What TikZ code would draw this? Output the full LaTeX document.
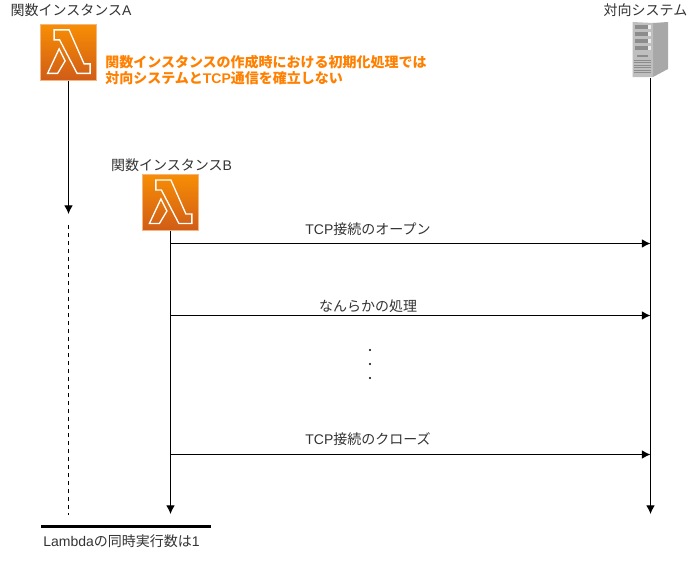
\documentclass[tikz,border=0pt]{standalone}
\usepackage{fontspec}
\setmainfont{Liberation Sans}
\newfontfamily\cjk{Noto Sans CJK JP}
\usepackage{xcolor}
\usepackage{tikz}
\usetikzlibrary{arrows.meta}

\definecolor{lamtop}{HTML}{F78E04}
\definecolor{lamlow}{HTML}{D05C17}
\definecolor{lamedge}{HTML}{F5B57E}
\definecolor{notecol}{HTML}{FF8000}
\definecolor{txtcol}{HTML}{333333}

\newcommand{\jp}[1]{{\cjk #1}}

\tikzset{
  lamicon/.style={shape=rectangle,draw=lamedge,line width=0.6pt,minimum size=42pt,inner sep=0pt,top color=lamtop,bottom color=lamlow},
  lamglyph/.style={draw=white,line width=1pt,line join=miter},
  msg/.style={-{Latex[length=6.5pt,width=6.5pt]},draw=black,line width=0.75pt},
  lbl/.style={text=txtcol,font=\fontsize{10.5}{12}\selectfont,inner sep=0pt},
  noteline/.style={text=notecol,font=\fontsize{10.5}{12}\selectfont\bfseries,inner sep=0pt,anchor=west},
}

\newcommand{\lamglyphat}[1]{
\begin{scope}[shift={(#1.north west)}]
\draw[lamglyph] (14,6) -- (29,6) -- (44,40) -- (50,40) -- (50,49.5) -- (37,49.5) -- (19.5,16) -- (14,16) -- cycle;
\draw[lamglyph] (19,25) -- (25,37) -- (17.5,49.5) -- (7.5,49.5) -- cycle;
\end{scope}
}

\begin{document}
\begin{tikzpicture}[x=0.75pt,y=-0.75pt]
\useasboundingbox (0,0) rectangle (696,564);

% icons
\node[lamicon] (lamA) at (68.5,52.3) {};
\lamglyphat{lamA}
\node[lamicon] (lamB) at (170.3,202.4) {};
\lamglyphat{lamB}

% server
\fill[gray!68] (653,23) -- (668,22) -- (668,69) -- (653,77) -- cycle;
\fill[gray!50] (632.5,22) -- (653,23) -- (653,77) -- (632.5,77) -- cycle;
\foreach \y in {25,32,39,46}{
  \fill[gray!90] (635,\y) rectangle (648,\y+4);
  \fill[gray!15] (648,\y) rectangle (651,\y+4);
}
\fill[gray!90] (637,55) rectangle (648,57);
\foreach \y in {60,62.5,65,67.5,70,72.5}{
  \draw[gray!90,line width=0.5pt] (634,\y) -- (651,\y);
}
\node[inner sep=0pt,minimum width=27pt,minimum height=42pt] (server) at (650.5,50) {};

% titles
\node[lbl] (titleA) at (71,10) {\jp{関数インスタンス}A};
\node[lbl] (titleB) at (171.5,165) {\jp{関数インスタンス}B};
\node[lbl] (titleS) at (645.5,10) {\jp{対向システム}};

% note
\node[noteline] (note1) at (105,62) {\jp{関数インスタンスの作成時における初期化処理では}};
\node[noteline] (note2) at (105,78) {\jp{対向システムと}TCP\jp{通信を確立しない}};

% lifeline ends
\coordinate (endA) at (68.5,214);
\coordinate (dashA1) at (68.5,225);
\coordinate (dashA2) at (68.5,515);
\coordinate (endB) at (170.5,514);
\coordinate (endS) at (650.5,514);

\draw[msg] (lamA.south) -- (endA);
\draw[draw=black,dashed,line width=0.6pt] (dashA1) -- (dashA2);
\draw[msg] (lamB.south -| endB) -- (endB);
\draw[msg] (server.south) -- (endS);

% messages
\coordinate (b1) at (170.5,243.5);
\coordinate (s1) at (650.5,243.5);
\coordinate (b2) at (170.5,315.5);
\coordinate (s2) at (650.5,315.5);
\coordinate (b3) at (170.5,454.5);
\coordinate (s3) at (650.5,454.5);
\draw[msg] (b1) -- (s1);
\draw[msg] (b2) -- (s2);
\draw[msg] (b3) -- (s3);
\node[lbl] (m1) at (368,229) {TCP\jp{接続のオープン}};
\node[lbl] (m2) at (368,306) {\jp{なんらかの処理}};
\node[lbl] (m3) at (368,439) {TCP\jp{接続のクローズ}};

% dots
\foreach \y/\n in {350/d1,364/d2,378/d3}{
  \fill[black] (370,\y) circle (0.9pt) coordinate (\n);
}

% bar
\coordinate (bar1) at (41,526);
\coordinate (bar2) at (211,526);
\draw[black,line width=2.25pt] (bar1) -- (bar2);
\node[lbl] (conc) at (121.5,541) {Lambda\jp{の同時実行数は}1};
\end{tikzpicture}
\end{document}
